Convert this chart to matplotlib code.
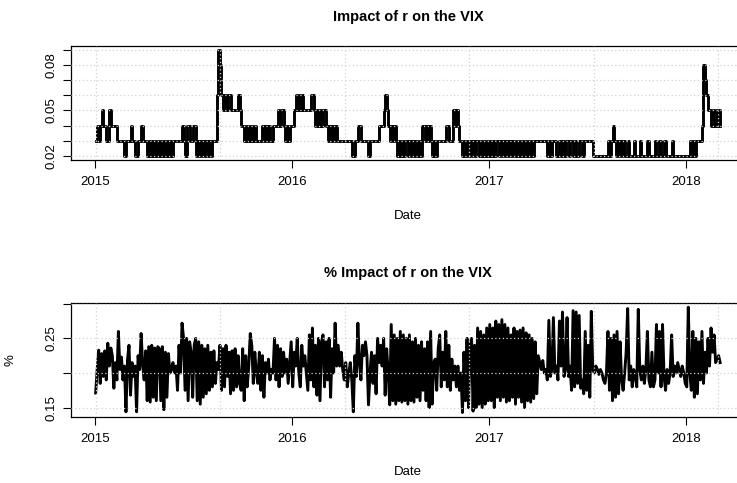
import matplotlib
matplotlib.use('Agg')
import matplotlib.pyplot as plt
import matplotlib.dates as mdates
import numpy as np
import pandas as pd

plt.rcParams['font.family'] = ['Liberation Sans', 'DejaVu Sans']

# values, roughly one every 2 trading days
# impact of r on the VIX, in hundredths
impact_2015 = [3,4,3,4,5,4,4,3,3,5,4,
               4,4,4,3,3,3,3,3,2,3,
               3,3,4,3,3,2,2,3,3,4,3,
               3,3,2,3,2,3,2,3,2,3,
               2,3,2,3,2,3,2,3,2,3,3,
               3,3,3,3,4,3,2,4,4,3,
               3,4,4,2,3,2,3,2,3,2,3,
               2,3,2,3,3,3,6,9,8,6,5,
               6,5,6,6,5,5,5,5,5,6,5,
               4,4,3,4,3,4,3,4,3,4,3,
               3,3,3,4,3,4,3,4,3,3,4,
               4,4,5,4,5,5,4,3,4,3,4]
impact_2016 = [4,4,5,6,5,6,5,6,5,5,5,
               5,5,6,6,5,4,5,4,5,4,
               5,5,4,3,4,3,4,3,4,3,3,
               3,3,3,3,3,3,3,3,2,2,3,
               3,4,4,3,3,3,3,3,2,3,3,
               3,3,3,3,4,4,4,5,6,5,4,
               3,4,3,4,3,2,3,2,3,2,3,
               3,2,3,2,3,2,3,2,3,2,4,
               4,3,4,3,4,3,2,3,2,3,3,
               3,3,3,3,4,4,3,3,3,5,
               4,5,4,3,3,2,3,2,3,2,3,
               2,3,2,3,3,2,3,2,3,2,3]
impact_2017 = [2,3,2,3,2,3,3,2,3,2,3,
               2,3,2,3,2,3,2,3,2,3,
               2,3,2,3,2,3,2,3,2,3,3,3,
               3,3,3,3,3,3,2,3,2,3,
               3,3,2,2,3,2,3,2,3,3,2,3,
               3,2,3,2,2,3,3,2,3,3,3,
               3,3,3,2,2,2,2,2,2,2,2,
               2,2,3,2,3,4,3,2,3,2,3,2,
               3,2,2,3,2,2,2,3,2,2,
               2,3,2,2,2,2,3,2,2,2,2,
               3,2,2,3,2,2,3,2,2,2,2,
               3,2,2,2,2,2,2,2,2,2]
impact_2018 = [2,2,3,2,3,2,3,3,3,3,4,
               8,7,6,5,5,4,5,4,5,4,
               5,4]

# % impact of r on the VIX, in thousandths
pct_2015 = [171,205,233,185,228,195,232,190,243,210,236,
            225,178,215,190,260,205,223,190,210,144,
            219,240,168,215,195,210,144,225,205,257,212,
            190,232,160,238,158,240,165,236,160,238,
            235,160,238,147,230,165,228,200,205,215,200,
            210,175,240,200,272,250,175,250,160,245,
            230,165,240,250,160,245,155,240,165,235,170,
            240,175,230,180,232,185,215,205,240,175,235,
            180,240,195,230,170,232,175,235,180,225,185,
            175,235,160,225,180,210,257,240,185,230,200,
            185,230,175,225,165,215,200,220,190,205,200,
            250,190,240,180,235,195,230,200,220,185,215]
pct_2016 = [245,180,230,210,250,200,180,240,210,225,200,
            175,255,190,265,180,240,168,250,160,245,
            255,180,245,190,250,165,235,200,272,210,240,
            210,230,205,190,215,180,200,215,190,144,225,
            195,272,215,190,240,225,245,225,154,200,230,
            185,225,170,250,215,240,210,250,168,235,200,
            154,270,160,255,155,250,160,260,158,255,160,
            250,155,255,160,245,158,250,165,240,160,245,
            175,235,160,245,150,260,155,215,220,175,235,
            255,180,230,190,260,180,240,175,220,190,
            210,180,210,175,200,143,230,160,250,150,240,
            250,145,240,150,265,155,260,150,255,155,265]
pct_2017 = [160,270,160,265,150,275,165,270,160,277,165,
            270,158,265,160,255,165,265,155,260,165,
            262,158,265,150,258,160,255,158,250,163,245,170,
            225,215,205,218,200,205,190,276,195,205,
            280,200,210,190,275,210,288,195,205,280,195,210,
            175,290,180,288,185,283,178,190,170,260,175,
            240,165,289,205,200,210,205,198,205,200,190,
            185,200,260,175,250,160,255,165,260,170,245,190,
            175,200,230,293,190,210,180,205,195,180,
            292,205,190,210,185,205,260,190,180,230,180,
            190,270,200,260,180,270,195,175,205,185,200,
            255,195,210,200,215,205,195,210,200,185]
pct_2018 = [180,295,200,175,260,165,250,170,245,190,260,
            185,230,200,250,210,265,230,255,215,220,
            225,215]

years = ['2015', '2016', '2017', '2018']
impact_ticks = [0.02, 0.03, 0.04, 0.05, 0.06, 0.07, 0.08, 0.09]
impact_labels = ['0.02', '', '', '0.05', '', '', '0.08', '']
pct_ticks = [0.15, 0.20, 0.25, 0.30]
pct_labels = ['0.15', '', '0.25', '']

impact = np.array(impact_2015 + impact_2016 + impact_2017 + impact_2018) / 100
pct = np.array(pct_2015 + pct_2016 + pct_2017 + pct_2018) / 1000
dates_impact = pd.date_range('2015-01-02', '2018-03-06', periods=len(impact))
dates_pct = pd.date_range('2015-01-02', '2018-03-06', periods=len(pct))
year_ticks = pd.to_datetime([y + '-01-01' for y in years])
grid_x = pd.date_range('2015-01-02', periods=6, freq='231D')

fig = plt.figure(figsize=(7.37, 4.83), dpi=100)
ax1 = fig.add_axes([0.0959, 0.6687, 0.9151, 0.2367])
ax2 = fig.add_axes([0.0959, 0.1373, 0.9151, 0.2354])

def style(ax, ticks, labels):
    ax.margins(x=0.04, y=0.04)
    ax.set_xticks(year_ticks)
    ax.set_xticklabels(years)
    ax.set_yticks(ticks)
    ax.set_yticklabels(labels)
    ax.tick_params(direction='out', length=5.5, width=0.8, labelsize=9.5, colors='black')
    ax.tick_params(axis='x', pad=6)
    ax.tick_params(axis='y', labelrotation=90, pad=4)
    for lab in ax.get_yticklabels():
        lab.set_va('center')
    for s in ax.spines.values():
        s.set_linewidth(0.9)
    for y in ticks:
        ax.axhline(y, color='lightgray', ls=(0, (1, 2)), lw=0.9, zorder=3)
    for x in grid_x:
        ax.axvline(x, color='lightgray', ls=(0, (1, 2)), lw=0.9, zorder=3)
    ax.set_xlabel('Date', fontsize=9.5)
    ax.xaxis.set_label_coords(0.5, -0.49)
    ax.xaxis.label.set_va('center')

#top
ax1.plot(dates_impact, impact, color='black', lw=2.1, drawstyle='steps-post', zorder=2)
style(ax1, impact_ticks, impact_labels)
ax1.set_title('Impact of r on the VIX', fontsize=10.5, fontweight='bold', pad=18)

#bottom
ax2.plot(dates_pct, pct, color='black', lw=2.1, zorder=2)
style(ax2, pct_ticks, pct_labels)
ax2.set_title('% Impact of r on the VIX', fontsize=10.5, fontweight='bold', pad=19)
ax2.set_ylabel('%', fontsize=9.5)
ax2.yaxis.set_label_coords(-0.08, 0.5)

plt.savefig('out.png', dpi=100)
plt.close()
